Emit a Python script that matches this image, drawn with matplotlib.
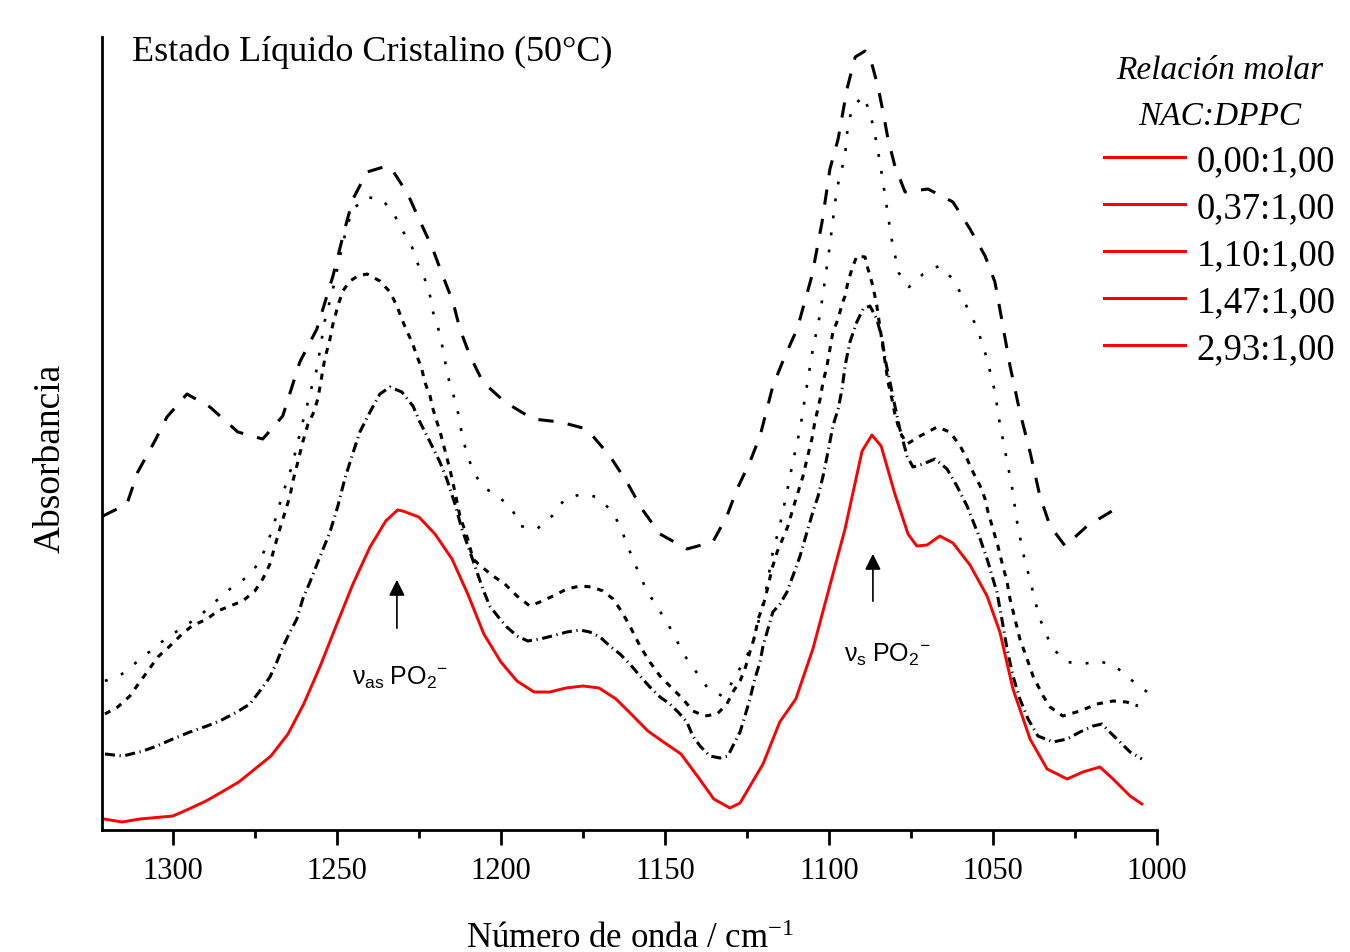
import matplotlib
matplotlib.use("Agg")
import matplotlib.pyplot as plt
from matplotlib.lines import Line2D
from matplotlib.ticker import MultipleLocator

plt.rcParams['font.family'] = ['Liberation Serif', 'DejaVu Serif']
plt.rcParams['mathtext.fontset'] = 'custom'
plt.rcParams['mathtext.rm'] = 'Liberation Serif'
plt.rcParams['mathtext.it'] = 'Liberation Serif:italic'
plt.rcParams['mathtext.sf'] = 'Liberation Sans'

# ---------------- data ----------------
wn_000 = [1321.0, 1315.5, 1310.1, 1300.0, 1295.1, 1289.9, 1285.1, 1279.9, 1275.0, 1270.1, 1264.9, 1260.1,
          1255.2, 1250.0, 1245.1, 1239.9, 1235.1, 1231.5, 1229.9, 1225.0, 1220.1, 1214.9, 1210.1, 1205.2,
          1200.0, 1195.1, 1189.9, 1185.1, 1180.2, 1175.0, 1170.1, 1164.9, 1160.0, 1155.2, 1150.0, 1145.1,
          1139.9, 1135.1, 1130.2, 1127.1, 1120.1, 1115.0, 1110.1, 1104.9, 1100.0, 1095.1, 1089.9, 1086.9,
          1084.1, 1079.9, 1075.9, 1073.2, 1070.1, 1066.2, 1062.2, 1057.0, 1051.8, 1047.9, 1043.9, 1038.7,
          1033.5, 1027.4, 1022.6, 1017.4, 1013.4, 1008.2, 1004.6]
abs_000 = [0.011, 0.008, 0.011, 0.014, 0.021, 0.029, 0.038, 0.048, 0.061, 0.074, 0.096, 0.126,
           0.163, 0.206, 0.246, 0.283, 0.309, 0.320, 0.319, 0.313, 0.296, 0.271, 0.236, 0.196,
           0.168, 0.149, 0.138, 0.138, 0.142, 0.144, 0.142, 0.131, 0.115, 0.099, 0.087, 0.076,
           0.053, 0.031, 0.022, 0.027, 0.066, 0.108, 0.131, 0.181, 0.241, 0.301, 0.379, 0.395,
           0.384, 0.336, 0.296, 0.284, 0.285, 0.294, 0.287, 0.265, 0.234, 0.198, 0.141, 0.091,
           0.061, 0.051, 0.058, 0.063, 0.051, 0.034, 0.026]

wn_037 = [1320.7, 1315.2, 1309.1, 1304.9, 1300.0, 1294.8, 1289.6, 1285.7, 1280.5, 1276.5, 1273.5, 1270.4,
          1268.3, 1266.5, 1264.3, 1262.2, 1260.4, 1258.2, 1255.8, 1252.1, 1249.7, 1247.6, 1245.4, 1243.0,
          1239.9, 1236.9, 1233.8, 1230.2, 1226.8, 1224.7, 1221.6, 1218.6, 1216.5, 1214.0, 1211.9, 1209.4,
          1207.3, 1205.5, 1203.4, 1200.3, 1198.2, 1195.1, 1191.8, 1188.1, 1184.4, 1179.9, 1175.9, 1172.9,
          1169.8, 1166.8, 1163.7, 1160.7, 1157.6, 1154.6, 1151.5, 1148.5, 1146.0, 1143.3, 1141.5, 1139.3,
          1136.3, 1133.2, 1130.8, 1129.3, 1127.1, 1125.6, 1124.1, 1122.6, 1121.0, 1120.1, 1118.6, 1117.1,
          1114.9, 1112.8, 1111.0, 1108.8, 1106.7, 1104.9, 1103.3, 1101.8, 1100.3, 1098.8, 1097.2, 1096.0,
          1095.1, 1093.6, 1091.5, 1089.6, 1087.5, 1085.4, 1083.8, 1082.9, 1081.4, 1079.9, 1078.4, 1076.2,
          1074.4, 1071.3, 1067.7, 1064.0, 1061.0, 1057.9, 1055.5, 1053.9, 1051.5, 1050.0, 1048.8, 1047.3,
          1045.7, 1043.9, 1041.8, 1039.3, 1036.3, 1031.7, 1027.4, 1023.5, 1019.5, 1016.8, 1014.4, 1011.3,
          1008.2, 1004.6]
abs_037 = [0.076, 0.074, 0.079, 0.084, 0.091, 0.098, 0.104, 0.109, 0.118, 0.126, 0.139, 0.153,
           0.168, 0.183, 0.198, 0.211, 0.231, 0.248, 0.268, 0.298, 0.324, 0.351, 0.374, 0.398,
           0.418, 0.436, 0.443, 0.438, 0.424, 0.408, 0.388, 0.368, 0.351, 0.326, 0.301, 0.278,
           0.258, 0.241, 0.224, 0.211, 0.203, 0.194, 0.189, 0.191, 0.194, 0.198, 0.200, 0.198,
           0.193, 0.184, 0.176, 0.166, 0.154, 0.143, 0.133, 0.126, 0.118, 0.108, 0.094, 0.084,
           0.074, 0.072, 0.074, 0.084, 0.098, 0.114, 0.131, 0.151, 0.168, 0.184, 0.201, 0.218,
           0.226, 0.238, 0.254, 0.274, 0.298, 0.318, 0.334, 0.354, 0.378, 0.404, 0.421, 0.441,
           0.464, 0.488, 0.508, 0.521, 0.524, 0.511, 0.491, 0.471, 0.448, 0.424, 0.401, 0.374,
           0.363, 0.366, 0.371, 0.361, 0.344, 0.324, 0.304, 0.291, 0.268, 0.251, 0.238, 0.211,
           0.181, 0.154, 0.131, 0.111, 0.094, 0.088, 0.091, 0.098, 0.104, 0.106, 0.098, 0.088,
           0.078, 0.071]

wn_110 = [1320.7, 1316.8, 1313.1, 1310.1, 1307.6, 1304.6, 1300.9, 1297.2, 1294.2, 1289.6, 1286.3, 1282.6,
          1278.7, 1275.0, 1272.6, 1270.4, 1268.9, 1267.4, 1265.8, 1264.3, 1263.4, 1261.9, 1260.4, 1258.8,
          1257.3, 1255.8, 1254.6, 1253.7, 1252.1, 1251.2, 1249.7, 1248.2, 1246.0, 1243.6, 1240.8, 1236.9,
          1233.8, 1231.7, 1230.2, 1228.7, 1227.1, 1225.6, 1224.1, 1223.2, 1221.6, 1220.7, 1219.5, 1218.6,
          1217.1, 1215.5, 1214.0, 1212.5, 1210.1, 1208.5, 1205.8, 1202.4, 1198.8, 1195.1, 1191.2, 1188.1,
          1184.1, 1179.9, 1175.9, 1172.2, 1168.9, 1165.8, 1163.1, 1160.7, 1157.6, 1154.6, 1151.5, 1147.6,
          1144.5, 1141.5, 1137.8, 1134.1, 1131.1, 1129.3, 1127.1, 1125.6, 1124.1, 1122.6, 1121.6, 1120.1,
          1118.6, 1117.4, 1115.8, 1112.5, 1111.0, 1109.4, 1107.9, 1106.7, 1105.2, 1104.3, 1102.7, 1101.8,
          1100.6, 1099.7, 1098.8, 1097.2, 1096.0, 1095.1, 1094.2, 1093.0, 1091.5, 1089.0, 1088.1, 1086.6,
          1085.4, 1083.8, 1082.9, 1082.0, 1080.8, 1079.9, 1078.4, 1076.2, 1072.2, 1067.0, 1063.1, 1060.0,
          1057.9, 1056.1, 1053.9, 1052.4, 1051.5, 1050.0, 1048.5, 1047.3, 1045.7, 1044.8, 1043.3, 1041.8,
          1039.6, 1037.8, 1034.7, 1032.6, 1028.7, 1023.5, 1018.3, 1013.4, 1009.3, 1005.8]
abs_110 = [0.116, 0.123, 0.134, 0.148, 0.159, 0.173, 0.184, 0.196, 0.204, 0.211, 0.219, 0.224,
           0.229, 0.239, 0.251, 0.266, 0.284, 0.301, 0.318, 0.334, 0.349, 0.368, 0.388, 0.406,
           0.416, 0.431, 0.454, 0.471, 0.491, 0.506, 0.524, 0.539, 0.549, 0.554, 0.556, 0.549,
           0.538, 0.524, 0.511, 0.499, 0.488, 0.474, 0.461, 0.448, 0.434, 0.421, 0.408, 0.399,
           0.380, 0.360, 0.338, 0.314, 0.291, 0.271, 0.263, 0.254, 0.246, 0.234, 0.224, 0.228,
           0.234, 0.241, 0.244, 0.243, 0.239, 0.231, 0.218, 0.204, 0.184, 0.168, 0.154, 0.141,
           0.131, 0.119, 0.114, 0.116, 0.126, 0.138, 0.149, 0.161, 0.178, 0.194, 0.211, 0.224,
           0.243, 0.261, 0.278, 0.304, 0.321, 0.338, 0.354, 0.371, 0.391, 0.408, 0.431, 0.448,
           0.464, 0.481, 0.498, 0.511, 0.526, 0.534, 0.548, 0.561, 0.574, 0.573, 0.561, 0.544,
           0.524, 0.488, 0.468, 0.448, 0.431, 0.416, 0.398, 0.386, 0.394, 0.403, 0.398, 0.384,
           0.371, 0.358, 0.344, 0.331, 0.318, 0.301, 0.284, 0.268, 0.248, 0.231, 0.211, 0.191,
           0.171, 0.154, 0.134, 0.123, 0.114, 0.119, 0.126, 0.129, 0.128, 0.124]

wn_147 = [1320.7, 1315.5, 1311.0, 1306.1, 1301.5, 1296.3, 1291.8, 1287.2, 1282.6, 1277.4, 1273.5, 1269.8,
          1266.8, 1263.7, 1260.4, 1257.6, 1256.1, 1253.7, 1251.2, 1249.1, 1246.9, 1245.1, 1240.8, 1236.0,
          1232.3, 1229.9, 1227.1, 1225.3, 1223.2, 1221.6, 1220.7, 1219.2, 1218.0, 1216.2, 1213.4, 1211.6,
          1210.1, 1208.5, 1205.5, 1200.9, 1196.6, 1194.2, 1189.0, 1184.4, 1180.5, 1175.3, 1170.7, 1166.2,
          1163.7, 1159.8, 1155.5, 1149.4, 1143.9, 1137.2, 1132.6, 1130.2, 1125.0, 1122.6, 1119.5, 1117.1,
          1115.0, 1112.8, 1111.0, 1108.8, 1106.4, 1104.9, 1102.7, 1100.0, 1097.6, 1095.1, 1094.2, 1092.7,
          1089.6, 1087.5, 1085.4, 1083.8, 1082.3, 1080.8, 1078.7, 1075.6, 1071.3, 1066.5, 1062.2, 1059.4,
          1057.3, 1054.9, 1051.8, 1049.4, 1047.9, 1046.0, 1044.2, 1042.7, 1040.9, 1038.4, 1036.0, 1034.1,
          1031.7, 1027.4, 1022.6, 1017.7, 1012.8, 1008.2, 1003.0]
abs_147 = [0.149, 0.156, 0.168, 0.181, 0.193, 0.204, 0.214, 0.228, 0.241, 0.253, 0.268, 0.299,
           0.333, 0.364, 0.408, 0.444, 0.461, 0.509, 0.541, 0.573, 0.604, 0.621, 0.633, 0.630,
           0.614, 0.599, 0.583, 0.566, 0.551, 0.534, 0.518, 0.503, 0.486, 0.454, 0.423, 0.391,
           0.374, 0.359, 0.343, 0.334, 0.321, 0.304, 0.301, 0.314, 0.331, 0.336, 0.333, 0.319,
           0.304, 0.271, 0.239, 0.208, 0.174, 0.143, 0.134, 0.144, 0.174, 0.194, 0.234, 0.278,
           0.304, 0.338, 0.368, 0.401, 0.451, 0.481, 0.516, 0.578, 0.641, 0.674, 0.706, 0.723,
           0.734, 0.718, 0.686, 0.654, 0.621, 0.589, 0.557, 0.543, 0.556, 0.564, 0.551, 0.534,
           0.518, 0.503, 0.471, 0.438, 0.406, 0.374, 0.343, 0.309, 0.278, 0.246, 0.214, 0.198,
           0.181, 0.168, 0.166, 0.169, 0.164, 0.151, 0.138]

wn_293 = [1321.3, 1314.0, 1310.7, 1305.5, 1301.8, 1295.7, 1288.7, 1280.2, 1272.6, 1266.5, 1261.3, 1256.1,
          1251.2, 1247.6, 1245.1, 1240.8, 1234.8, 1232.9, 1228.4, 1224.7, 1221.0, 1217.7, 1214.6, 1212.5,
          1209.4, 1205.5, 1198.8, 1190.2, 1182.0, 1173.8, 1166.8, 1161.6, 1157.0, 1151.5, 1143.3, 1135.4,
          1131.1, 1128.0, 1124.1, 1121.0, 1117.1, 1113.4, 1109.7, 1105.2, 1102.1, 1099.7, 1097.2, 1094.5,
          1092.0, 1089.0, 1087.5, 1085.1, 1083.5, 1082.0, 1079.9, 1076.8, 1069.8, 1062.2, 1057.0, 1052.4,
          1049.4, 1047.9, 1044.8, 1041.8, 1038.7, 1035.7, 1032.6, 1028.0, 1021.3, 1013.7, 1012.2]
abs_293 = [0.314, 0.326, 0.358, 0.389, 0.413, 0.436, 0.423, 0.398, 0.391, 0.414, 0.468, 0.501,
           0.554, 0.601, 0.631, 0.658, 0.664, 0.659, 0.636, 0.609, 0.583, 0.554, 0.528, 0.501,
           0.474, 0.448, 0.428, 0.411, 0.408, 0.401, 0.374, 0.348, 0.321, 0.296, 0.281, 0.288,
           0.314, 0.341, 0.368, 0.394, 0.444, 0.474, 0.501, 0.554, 0.608, 0.661, 0.691, 0.741,
           0.773, 0.779, 0.773, 0.744, 0.718, 0.691, 0.664, 0.638, 0.641, 0.628, 0.601, 0.574,
           0.548, 0.521, 0.464, 0.418, 0.378, 0.334, 0.304, 0.284, 0.304, 0.319, 0.316]

labels = ["0,00:1,00", "0,37:1,00", "1,10:1,00", "1,47:1,00", "2,93:1,00"]

X_MAX, X_MIN = 1321.6, 1000.0
Y_MIN, Y_MAX = 0.0, 0.793

# ---------------- figure ----------------
fig = plt.figure(figsize=(13.5, 9.53), dpi=100)
ax = fig.add_axes([102 / 1350, 1 - 831 / 953, (1157 - 102) / 1350, (831 - 38) / 953])

ax.plot(wn_293, abs_293, color='black', lw=2.2, dashes=(5, 4.7))
ax.plot(wn_147, abs_147, color='black', lw=1.9, dashes=(1.1, 5.4))
ax.plot(wn_110, abs_110, color='black', lw=2.2, dashes=(2.0, 2.3))
ax.plot(wn_037, abs_037, color='black', lw=2.2, dashes=(3.3, 1.5, 0.4, 1.5))
ax.plot(wn_000, abs_000, color='#ff0000', lw=2.1, solid_joinstyle='round')

ax.set_xlim(X_MAX, X_MIN)
ax.set_ylim(Y_MIN, Y_MAX)

for s in ['top', 'right']:
    ax.spines[s].set_visible(False)
for s in ['left', 'bottom']:
    ax.spines[s].set_linewidth(2.0)

ax.xaxis.set_major_locator(MultipleLocator(50))
ax.xaxis.set_minor_locator(MultipleLocator(25))
ax.tick_params(axis='x', which='major', direction='out', length=11, width=2.0,
               labelsize=22, pad=8)
ax.tick_params(axis='x', which='minor', direction='out', length=6, width=2.0)
ax.set_yticks([])

ax.set_xlabel("Número de onda / cm$^{\\mathregular{-1}}$", fontsize=25, labelpad=26)
fig.text(50 / 1350, 1 - 458 / 953, "Absorbancia", rotation=90, fontsize=27,
         ha='center', va='center')
fig.text(132 / 1350, 1 - 52 / 953, "Estado Líquido Cristalino (50°C)", fontsize=26,
         ha='left', va='center')

# band assignments
arrow_as = (1231.7, 0.199, 0.253)
arrow_s = (1086.6, 0.226, 0.279)
for xa, y0, y1 in (arrow_as, arrow_s):
    ax.annotate("", xy=(xa, y1), xytext=(xa, y0),
                arrowprops=dict(arrowstyle='-|>', color='black', lw=1.2, mutation_scale=24))
ax.text(1230.8, 0.153, r"$\mathsf{\nu_{as}\ PO_2{}^{-}}$", fontsize=18, ha='center', va='center')
ax.text(1082.3, 0.176, r"$\mathsf{\nu_{s}\ PO_2{}^{-}}$", fontsize=18, ha='center', va='center')

# legend (all handles drawn red as in the original)
handles = [Line2D([], [], color='#ff0000', lw=2.2) for _ in labels]
leg = fig.legend(handles, labels, loc='upper right', bbox_to_anchor=(1350 / 1350, 1 - 41 / 953),
                 borderaxespad=0.0, frameon=False, fontsize=26.5, handlelength=2.2,
                 handletextpad=0.3, labelspacing=0.34, title="Relación molar\nNAC:DPPC",
                 title_fontproperties={'family': 'Liberation Serif', 'style': 'italic', 'size': 24})
leg.get_title().set_linespacing(1.65)
leg.get_title().set_multialignment('center')

fig.savefig("out.png", dpi=100)
